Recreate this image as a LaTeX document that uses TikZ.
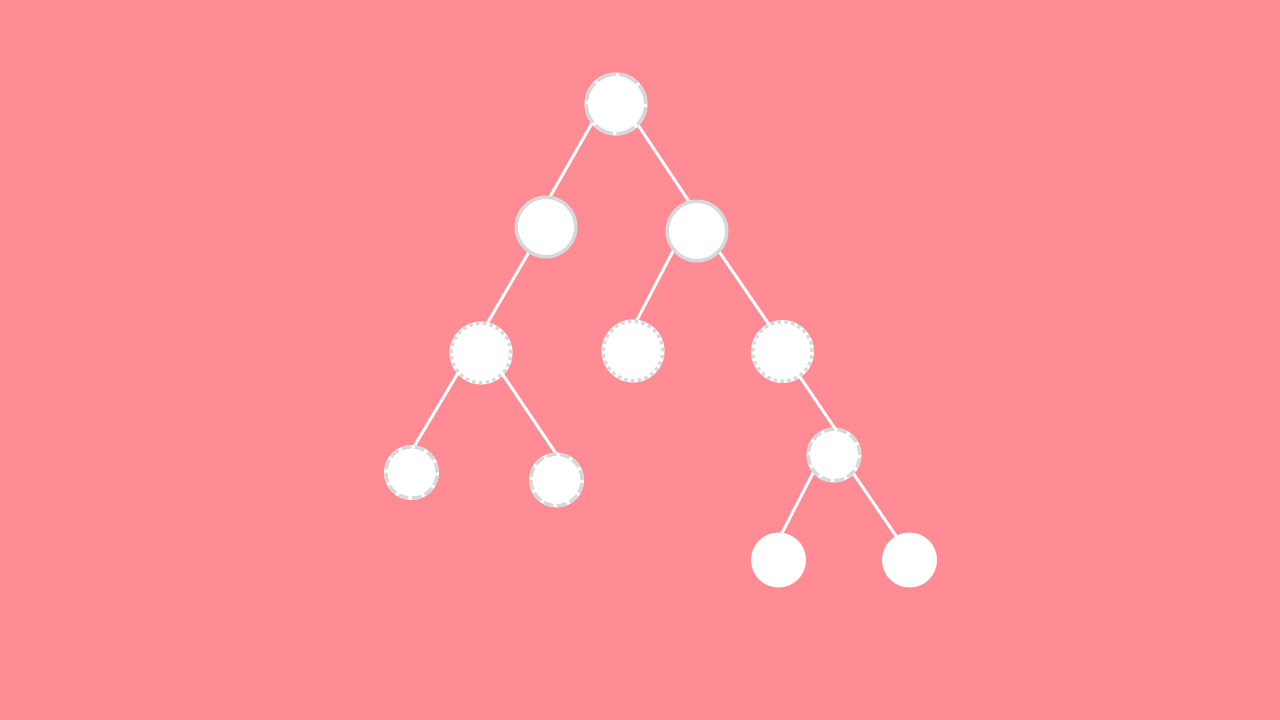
\documentclass[tikz,border=0pt]{standalone}
\definecolor{bg}{HTML}{FF8B94}
\definecolor{rim}{HTML}{D8D8D8}
\tikzset{
  x=1pt,y=-1pt,
  big/.style={circle,fill=white,draw=rim,line width=3.5pt,minimum size=59.5pt,inner sep=0pt},
  small/.style={circle,fill=white,draw=rim,line width=3.5pt,minimum size=51.5pt,inner sep=0pt},
  leaf/.style={circle,fill=white,draw=none,minimum size=55pt,inner sep=0pt},
  whitegap/.style={preaction={draw=white,solid,line width=3.5pt}},
  longdash/.style={whitegap,dash pattern=on 20pt off 3.4pt},
  shortdash/.style={whitegap,dash pattern=on 10pt off 3.5pt},
  dots/.style={whitegap,dash pattern=on 3.5pt off 3.4pt},
  edge/.style={draw=white,line width=3pt,shorten <=-8pt,shorten >=-8pt}
}
\begin{document}
\begin{tikzpicture}
\fill[bg] (0,0) rectangle (1280,720);
\useasboundingbox (0,0) rectangle (1280,720);
% connector end points
\coordinate (e1s) at (591,125);  \coordinate (e1e) at (551,195);
\coordinate (e2s) at (638,125);  \coordinate (e2e) at (688,200);
\coordinate (e3s) at (529,252);  \coordinate (e3e) at (488,322);
\coordinate (e4s) at (672,253);  \coordinate (e4e) at (637,320);
\coordinate (e5s) at (720,253);  \coordinate (e5e) at (768,323);
\coordinate (e6s) at (800,377);  \coordinate (e6e) at (836,430);
\coordinate (e7s) at (813,473);  \coordinate (e7e) at (782,533);
\coordinate (e8s) at (853,473);  \coordinate (e8e) at (896,536);
\coordinate (e9s) at (458,373);  \coordinate (e9e) at (415,445);
\coordinate (e10s) at (503,375); \coordinate (e10e) at (555,452);
\foreach \i in {1,...,10} {\path[edge] (e\i s) -- (e\i e);}
% nodes
\node[big,longdash] (root) at (616,104) {};
\node[big] (a) at (546,227) {};
\node[big] (b) at (697,231) {};
\node[big,dots] (aa) at (481,353) {};
\node[big,dots] (ba) at (633,351) {};
\node[big,dots] (bb) at (782.5,351.5) {};
\node[small,shortdash] (aaa) at (411.5,472.5) {};
\node[small,shortdash] (aab) at (556.5,480) {};
\node[small,shortdash] (bba) at (834,455) {};
\node[leaf] (bbaa) at (778.5,560) {};
\node[leaf] (bbab) at (909.5,560) {};
\end{tikzpicture}
\end{document}
